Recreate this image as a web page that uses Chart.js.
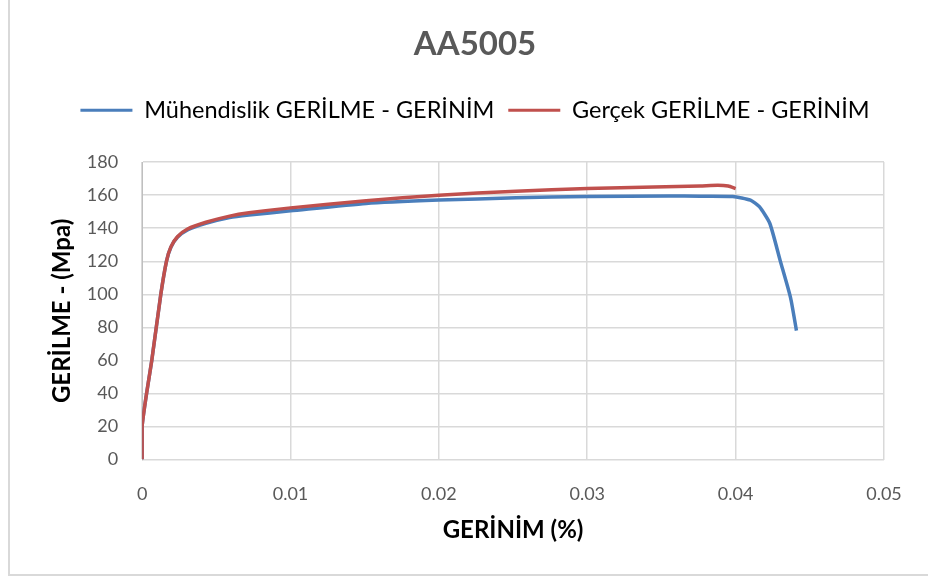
<!DOCTYPE html>
<html>
<head>
<meta charset="utf-8">
<script src="https://cdn.jsdelivr.net/npm/chart.js@4"></script>
<style>
  html, body { margin: 0; padding: 0; background: #fff; }
  #wrap { position: relative; width: 928px; height: 581px; }
  #frame { position: absolute; left: 8px; top: -4px; width: 940px; height: 580px;
           border-left: 2px solid #d9d9d9; border-bottom: 2px solid #d9d9d9; box-sizing: border-box; }
  canvas { position: absolute; left: 0; top: 0; }
</style>
</head>
<body>
<div id="wrap">
  <div id="frame"></div>
  <canvas id="stressChart" width="928" height="581"></canvas>
</div>
<script>
// Engineering stress-strain curve (blue)
let engStrain = [0, 0, 0.0003, 0.00065, 0.00126, 0.00164, 0.00194, 0.00238, 0.00306, 0.0043, 0.0059, 0.0072,
    0.01, 0.0151, 0.02, 0.0252, 0.03, 0.0355, 0.0376, 0.0398, 0.041, 0.0416, 0.0423, 0.043, 0.0437, 0.0441];
let engStress = [0, 20, 40, 60, 100, 120, 128.5, 134.5, 139, 143, 146.5, 148,
    150.5, 155, 157, 158.4, 159.2, 159.5, 159.4, 159.2, 157, 153, 143, 120.5, 98, 78];

// True stress-strain curve (red)
let trueStrain = [0, 0, 0.0003, 0.00065, 0.00126, 0.00164, 0.00194, 0.00238, 0.00306, 0.0043, 0.0059, 0.0072,
    0.01, 0.0151, 0.02, 0.0252, 0.03, 0.0345, 0.0376, 0.0388, 0.0395, 0.04];
let trueStress = [0, 20, 40, 60, 100, 120, 128.7, 134.8, 139.5, 143.6, 147.3, 149.3,
    152.3, 156.6, 160, 162.4, 164, 165, 165.6, 166, 165.5, 164];

let seriesNames = ['Mühendislik GERİLME - GERİNİM', 'Gerçek GERİLME - GERİNİM'];
let seriesColors = ['#4a7ebb', '#c0504d'];

const toPoints = (xs, ys) => xs.map((x, i) => ({ x: x, y: ys[i] }));

const ctx = document.getElementById('stressChart').getContext('2d');
const FONT = 'Lato, "Open Sans", sans-serif';

const stressChart = new Chart(ctx, {
    type: 'scatter',
    data: {
        datasets: [{
            label: seriesNames[0],
            data: toPoints(engStrain, engStress),
            borderColor: seriesColors[0],
            backgroundColor: seriesColors[0],
            borderWidth: 3.5,
            showLine: true,
            pointRadius: 0,
            tension: 0.2,
            order: 1
        }, {
            label: seriesNames[1],
            data: toPoints(trueStrain, trueStress),
            borderColor: seriesColors[1],
            backgroundColor: seriesColors[1],
            borderWidth: 3.5,
            showLine: true,
            pointRadius: 0,
            tension: 0.2,
            order: 0
        }]
    },
    options: {
        responsive: false,
        animation: false,
        layout: { padding: { left: 66, right: 44, top: 12, bottom: 30 } },
        scales: {
            x: {
                type: 'linear',
                min: 0, max: 0.05,
                ticks: { stepSize: 0.01, color: '#595959', font: { family: FONT, size: 18 }, padding: 24 },
                grid: { color: '#d9d9d9', lineWidth: 1.5, drawTicks: false },
                border: { color: '#d9d9d9' },
                title: { display: true, text: 'GERİNİM (%)', color: '#000', font: { family: FONT, size: 24, weight: 'bold' }, padding: { top: -13, bottom: 6 } }
            },
            y: {
                min: 0, max: 180,
                ticks: { stepSize: 20, color: '#595959', font: { family: FONT, size: 18 }, padding: 24 },
                grid: { color: '#d9d9d9', lineWidth: 1.5, drawTicks: false },
                border: { color: '#bfbfbf' },
                title: { display: true, text: 'GERİLME - (Mpa)', color: '#000', font: { family: FONT, size: 24, weight: 'bold' }, padding: { top: -18.4, bottom: -13.6 } }
            }
        },
        plugins: {
            title: {
                display: true,
                text: 'AA5005',
                color: '#595959',
                font: { family: FONT, size: 33, weight: 'bold' },
                padding: { top: 13, bottom: 20 }
            },
            // empty subtitle used as a spacer between the legend and the plot
            subtitle: {
                display: true,
                text: ' ',
                weight: 500,
                font: { size: 10 },
                padding: { top: 9, bottom: 9 }
            },
            legend: {
                display: true,
                labels: {
                    color: '#000',
                    font: { family: FONT, size: 23.5 },
                    boxWidth: 52,
                    boxHeight: 3,
                    padding: 14,
                    sort: (a, b) => a.datasetIndex - b.datasetIndex,
                    generateLabels: chart => Chart.defaults.plugins.legend.labels.generateLabels(chart)
                        .map(l => Object.assign(l, { lineWidth: 0 }))
                }
            },
            tooltip: { enabled: false }
        }
    }
});
</script>
</body>
</html>
